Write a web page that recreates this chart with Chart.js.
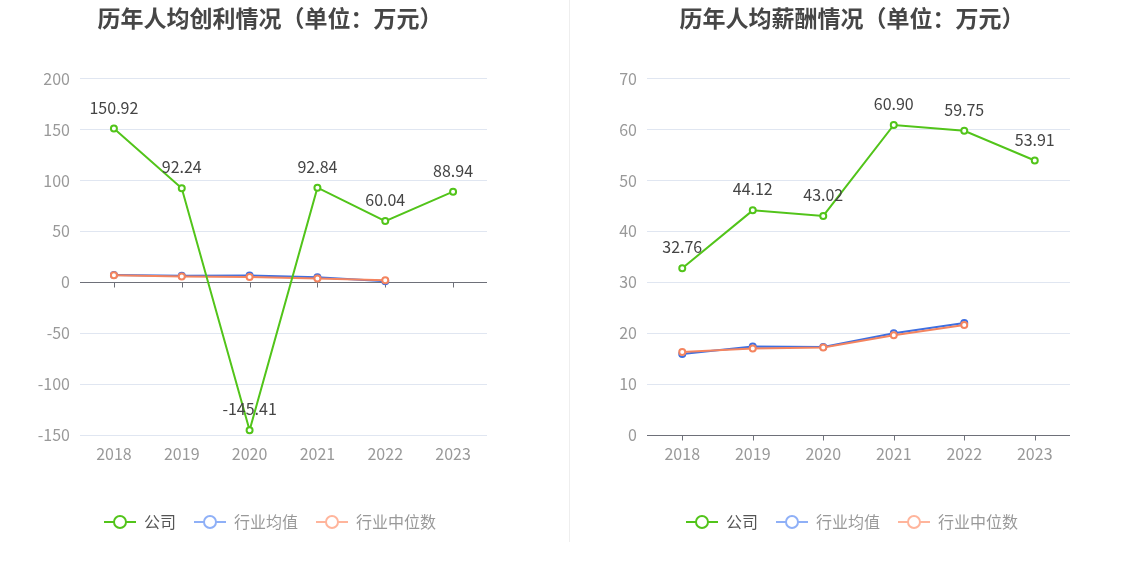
<!DOCTYPE html>
<html>
<head>
<meta charset="utf-8">
<script src="https://cdn.jsdelivr.net/npm/chart.js@4"></script>
<style>
	body { margin: 0; background: #fff; }
	.box { position: absolute; top: 0; height: 582px; }
	#left { left: 0; width: 540px; }
	#right { left: 570px; width: 564px; }
	#divider { position: absolute; left: 569px; top: 0; width: 1px; height: 542px; background: #eeeeee; }
</style>
</head>
<body>
<div class="box" id="left"><canvas id="chartLeft"></canvas></div>
<div id="divider"></div>
<div class="box" id="right"><canvas id="chartRight"></canvas></div>
<script>
let years = ["2018", "2019", "2020", "2021", "2022", "2023"];
let seriesNames = ["公司", "行业均值", "行业中位数"];

let profitCompany = [150.92, 92.24, -145.41, 92.84, 60.04, 88.94];
let profitAvg = [7.2, 6.3, 6.6, 5.0, 1.0, null];
let profitMedian = [7.0, 5.7, 5.2, 3.6, 2.0, null];
let profitTicks = [-150, -100, -50, 0, 50, 100, 150, 200];

let salaryCompany = [32.76, 44.12, 43.02, 60.90, 59.75, 53.91];
let salaryAvg = [15.9, 17.4, 17.3, 20.0, 22.0, null];
let salaryMedian = [16.3, 17.0, 17.2, 19.6, 21.6, null];
let salaryTicks = [0, 10, 20, 30, 40, 50, 60, 70];

let lineColors = ["#52c41a", "#3f6fe0", "#f4845f"];
let legendColors = ["#52c41a", "#8fb0f7", "#ffb59c"];
let legendTextColors = ["#555555", "#999999", "#999999"];
let fontFamily = "'Noto Sans CJK SC', 'Noto Sans', sans-serif";

// legend icon: short line with a hollow circle in the middle
let makeIcon = (color) => {
	let c = document.createElement("canvas");
	c.width = 32;
	c.height = 16;
	let ctx = c.getContext("2d");
	ctx.strokeStyle = color;
	ctx.lineWidth = 2;
	ctx.beginPath();
	ctx.moveTo(0, 8);
	ctx.lineTo(32, 8);
	ctx.stroke();
	ctx.beginPath();
	ctx.arc(16, 8, 6, 0, Math.PI * 2);
	ctx.fillStyle = "#fff";
	ctx.fill();
	ctx.stroke();
	return c;
};
let icons = legendColors.map(makeIcon);

// zero axis line with small tick marks under each year
let zeroAxis = {
	id: "zeroAxis",
	beforeDatasetsDraw(chart) {
		let x = chart.scales.x;
		let y = chart.scales.y;
		let area = chart.chartArea;
		let y0 = Math.round(y.getPixelForValue(0)) + 0.5;
		let ctx = chart.ctx;
		ctx.save();
		ctx.strokeStyle = "#6e7079";
		ctx.lineWidth = 1;
		ctx.beginPath();
		ctx.moveTo(area.left, y0);
		ctx.lineTo(area.right, y0);
		years.forEach((yr, i) => {
			let px = Math.round(x.getPixelForValue(i)) + 0.5;
			ctx.moveTo(px, y0);
			ctx.lineTo(px, y0 + 5);
		});
		ctx.stroke();
		ctx.restore();
	},
};

// value labels above the company line
let valueLabels = {
	id: "valueLabels",
	afterDatasetsDraw(chart) {
		let ctx = chart.ctx;
		let meta = chart.getDatasetMeta(0);
		let values = chart.data.datasets[0].data;
		ctx.save();
		ctx.font = "16px " + fontFamily;
		ctx.fillStyle = "#444444";
		ctx.textAlign = "center";
		ctx.textBaseline = "middle";
		meta.data.forEach((pt, i) => {
			ctx.fillText(values[i].toFixed(2), pt.x, pt.y - 21);
		});
		ctx.restore();
	},
};

let makeDataset = (label, data, idx, order) => ({
	label: label,
	data: data,
	order: order,
	borderColor: lineColors[idx],
	backgroundColor: "#ffffff",
	borderWidth: 2,
	pointRadius: 3,
	pointBorderWidth: 2,
	pointBackgroundColor: "#ffffff",
	pointBorderColor: lineColors[idx],
	tension: 0,
	yAxisID: "y",
});

let renderChart = (canvasId, title, company, avg, median, ticks, yWidth, padRight) => {
	new Chart(document.getElementById(canvasId), {
		type: "line",
		data: {
			labels: years,
			datasets: [
				makeDataset(seriesNames[0], company, 0, 0),
				makeDataset(seriesNames[1], avg, 1, 2),
				makeDataset(seriesNames[2], median, 2, 1),
			],
		},
		options: {
			responsive: true,
			maintainAspectRatio: false,
			animation: false,
			layout: { padding: { left: 0, right: 0, top: 0, bottom: 42 } },
			plugins: {
				title: {
					display: true,
					text: title,
					color: "#464646",
					font: { family: fontFamily, size: 23, weight: "bold" },
					padding: { top: 4, bottom: 47 },
				},
				legend: {
					position: "bottom",
					labels: {
						usePointStyle: true,
						pointStyleWidth: 32,
						boxHeight: 16,
						padding: 18,
						font: { family: fontFamily, size: 16 },
						generateLabels: () => seriesNames.map((name, i) => ({
							text: name,
							pointStyle: icons[i],
							fontColor: legendTextColors[i],
							datasetIndex: i,
							hidden: false,
							lineWidth: 0,
						})),
					},
				},
				tooltip: { enabled: false },
			},
			scales: {
				x: {
					offset: true,
					grid: { display: false, drawTicks: false },
					border: { display: false },
					ticks: { color: "#999999", padding: 9, font: { family: fontFamily, size: 16 } },
					afterFit: (s) => { s.height = 61; },
				},
				y: {
					min: ticks[0],
					max: ticks[ticks.length - 1],
					afterBuildTicks: (s) => { s.ticks = ticks.map((v) => ({ value: v })); },
					grid: { color: "#e0e6f1", drawTicks: false },
					border: { display: false },
					ticks: { color: "#999999", padding: 10, font: { family: fontFamily, size: 16 } },
					afterFit: (s) => { s.width = yWidth; },
				},
				// empty right-hand axis that only reserves space, so title and legend stay centred
				spacer: {
					position: "right",
					display: true,
					grid: { display: false, drawTicks: false },
					border: { display: false },
					ticks: { display: false },
					afterFit: (s) => { s.width = padRight; },
				},
			},
		},
		plugins: [zeroAxis, valueLabels],
	});
};

renderChart("chartLeft", "历年人均创利情况（单位：万元）", profitCompany, profitAvg, profitMedian, profitTicks, 80, 53);
renderChart("chartRight", "历年人均薪酬情况（单位：万元）", salaryCompany, salaryAvg, salaryMedian, salaryTicks, 77, 64);
</script>
</body>
</html>
